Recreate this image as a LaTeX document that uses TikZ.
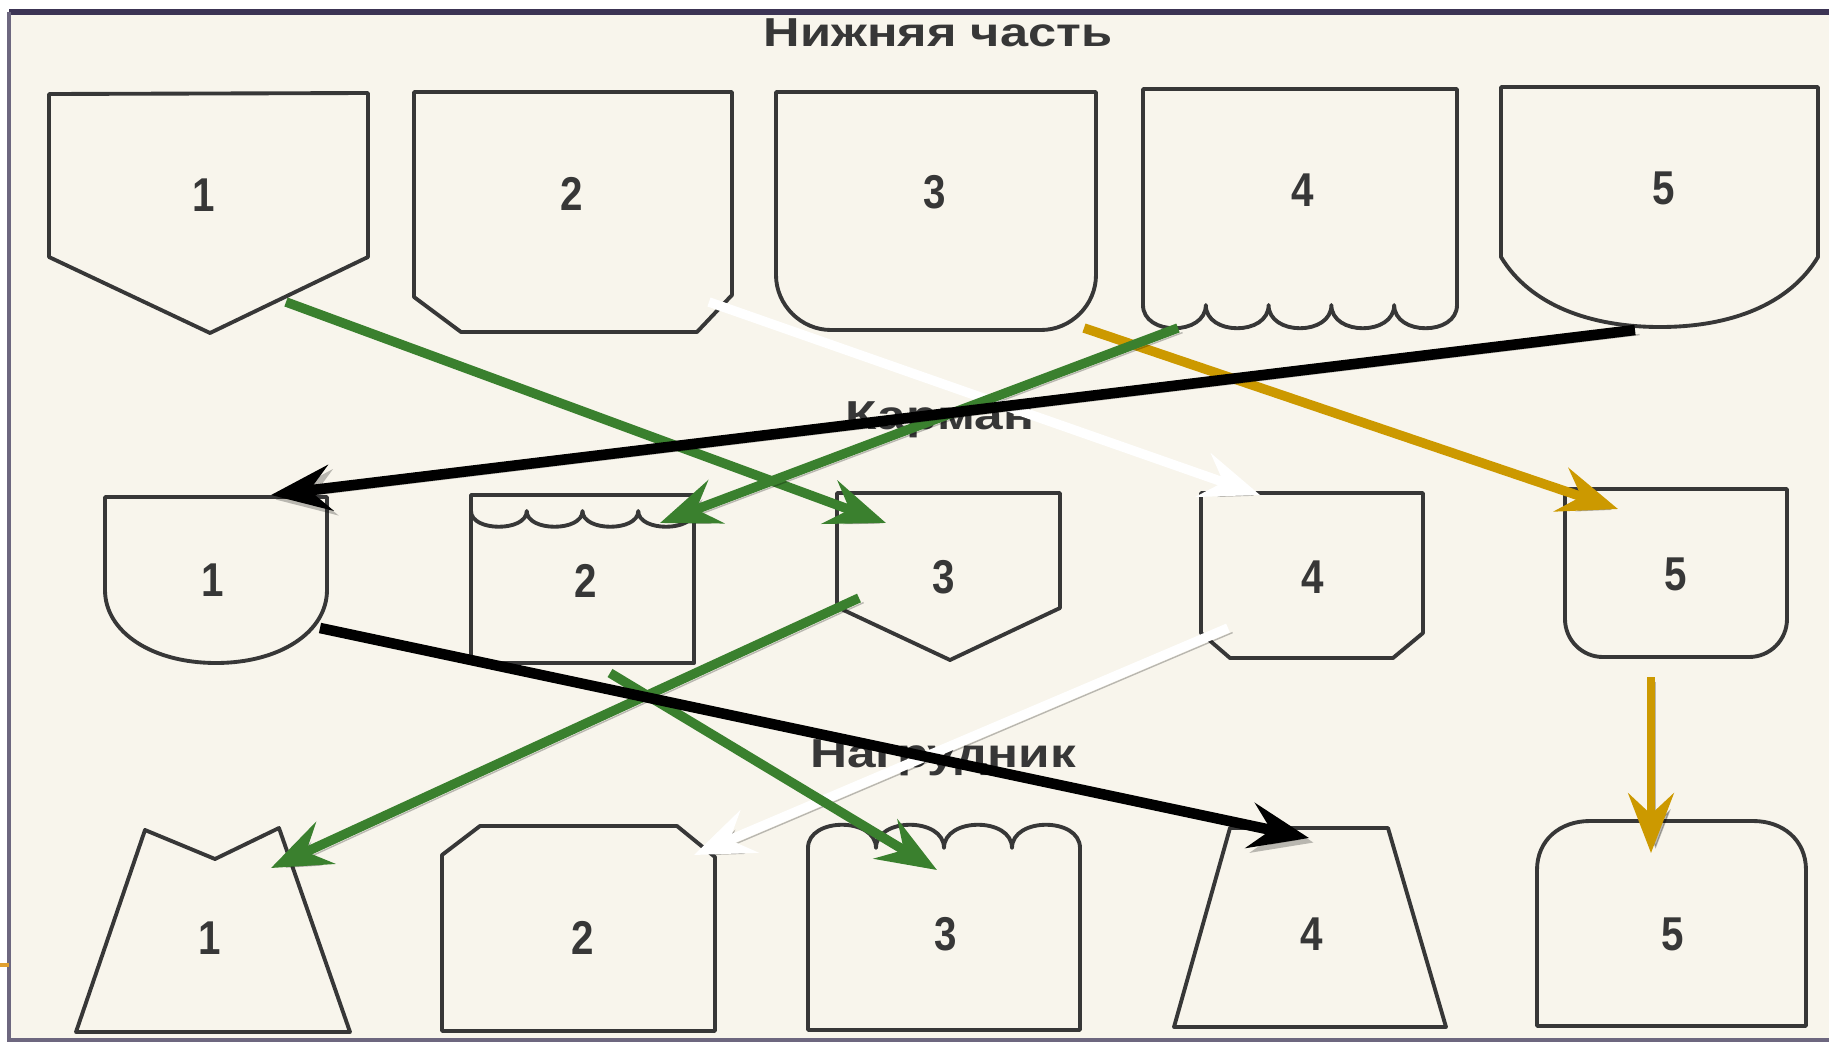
\documentclass[tikz,border=0pt]{standalone}
\usepackage{fontspec}
\setmainfont{Liberation Sans}
\usepackage{tikz}
\usetikzlibrary{arrows.meta}
\definecolor{paper}{RGB}{248,245,236}
\definecolor{frameline}{RGB}{60,52,84}
\definecolor{ink}{RGB}{55,55,55}
\definecolor{leaf}{RGB}{58,128,46}
\definecolor{gold}{RGB}{204,153,0}
\definecolor{tab}{RGB}{224,160,48}

\begin{document}
\begin{tikzpicture}[x=0.01cm, y=-0.01cm,
    part/.style={draw=ink, line width=1.1pt, line join=round},
    num/.style={text=ink, font=\fontsize{13.5}{13.5}\selectfont\bfseries},
    head/.style={text=ink, font=\fontsize{11.5}{11.5}\selectfont\bfseries},
    link/.style={line width=2.7pt, -{Stealth[length=17pt, width=13pt, inset=6pt]},
      preaction={draw=black, opacity=0.25, transform canvas={xshift=1.3pt, yshift=-1.3pt}}}]
  \useasboundingbox (0,0) rectangle (1829,1042);
  \fill[white] (0,0) rectangle (1829,1042);
  \fill[paper] (9,12) rectangle (1829,1040);
  \draw[frameline, line width=1.8pt] (9,12) -- (1829,12);
  \draw[frameline!75, line width=1pt] (9,12) -- (9,1040) -- (1829,1040);
  \draw[tab, line width=1pt] (0,965) -- (9,965);

  \draw[part] (49,94) -- (368,93) -- (368,257) -- (210,333) -- (49,257) -- cycle;
  \draw[part] (414,92) -- (732,92) -- (732,295) -- (697,332) -- (461,332) -- (414,297) -- cycle;
  \draw[part] (776,92) -- (776,275) .. controls (776,305) and (801,330) .. (831,330) -- (1041,330)
    .. controls (1071,330) and (1096,305) .. (1096,275) -- (1096,92) -- cycle;
  \draw[part] (1143,89) -- (1143,305)
    \foreach \k in {1,...,5} { .. controls +(0,31) and +(0,31) .. ++(62.8,0) } -- (1457,89) -- cycle;
  \draw[part] (1501,87) -- (1501,257) .. controls (1530,305) and (1590,327) .. (1660,327)
    .. controls (1730,327) and (1789,305) .. (1818,257) -- (1818,87) -- cycle;

  \draw[part] (105,497) -- (327,497) -- (327,590) .. controls (327,632) and (280,663) .. (216,663)
    .. controls (152,663) and (105,632) .. (105,590) -- cycle;
  \draw[part] (471,495) rectangle (694,663);
  \draw[part] (471,511) \foreach \k in {1,...,4} { .. controls +(0,21) and +(0,21) .. ++(55.75,0) };
  \draw[part] (837,493) -- (1060,493) -- (1060,608) -- (950,660) -- (837,607) -- cycle;
  \draw[part] (1201,493) -- (1423,493) -- (1423,633) -- (1393,658) -- (1230,658) -- (1201,633) -- cycle;
  \draw[part] (1565,489) -- (1787,489) -- (1787,619) .. controls (1787,640) and (1770,657) .. (1749,657)
    -- (1603,657) .. controls (1582,657) and (1565,640) .. (1565,619) -- cycle;

  \draw[part] (76,1032) -- (145,830) -- (215,859) -- (279,828) -- (350,1032) -- cycle;
  \draw[part] (442,1031) -- (442,855) -- (480,826) -- (677,826) -- (715,857) -- (715,1031) -- cycle;
  \draw[part] (808,1030) -- (808,848)
    \foreach \k in {1,...,4} { .. controls +(0,-31) and +(0,-31) .. ++(68,0) } -- (1080,1030) -- cycle;
  \draw[part] (1174,1027) -- (1230,828) -- (1388,828) -- (1446,1027) -- cycle;
  \draw[part] (1537,1026) -- (1537,870) .. controls (1537,840) and (1560,821) .. (1590,821) -- (1753,821)
    .. controls (1783,821) and (1806,840) .. (1806,870) -- (1806,1026) -- cycle;

  \foreach \n/\x/\y in {1/204/195, 2/572/194, 3/935/192, 4/1303/190, 5/1664/188}
    \node[num] (t\n) at (\x,\y) {\scalebox{0.85}[1]{\n}};
  \foreach \n/\x/\y in {1/213/580, 2/586/581, 3/944/577, 4/1313/577, 5/1676/574}
    \node[num] (m\n) at (\x,\y) {\scalebox{0.85}[1]{\n}};
  \foreach \n/\x/\y in {1/210/938, 2/583/938, 3/946/934, 4/1312/934, 5/1673/934}
    \node[num] (b\n) at (\x,\y) {\scalebox{0.85}[1]{\n}};

  \node[head] (lower) at (938,33) {\scalebox{1.25}[1]{Нижняя часть}};
  \node[head] (pocket) at (940,420) {\scalebox{1.27}[1]{Карман}};
  \node[head] (bib) at (943,758) {\scalebox{1.27}[1]{Нагрудник}};

  \coordinate (t1out) at (286,302);
  \coordinate (t2out) at (709,302);
  \coordinate (t3out) at (1084,328);
  \coordinate (t4out) at (1178,328);
  \coordinate (t5out) at (1635,330);
  \coordinate (m1in) at (271,495);
  \coordinate (m2in) at (660,523);
  \coordinate (m3in) at (886,523);
  \coordinate (m4in) at (1260,495);
  \coordinate (m5in) at (1618,509);
  \coordinate (m1out) at (320,628);
  \coordinate (m2out) at (610,673);
  \coordinate (m3out) at (859,598);
  \coordinate (m4out) at (1228,628);
  \coordinate (m5out) at (1651,677);
  \coordinate (b1in) at (271,868);
  \coordinate (b2in) at (694,855);
  \coordinate (b3in) at (937,870);
  \coordinate (b4in) at (1309,838);
  \coordinate (b5in) at (1651,853);

  \draw[link, white] (t2out) -- (m4in);
  \draw[link, white] (m4out) -- (b2in);
  \draw[link, gold] (t3out) -- (m5in);
  \draw[link, gold, line width=2.2pt] (m5out) -- (b5in);
  \draw[link, leaf] (t1out) -- (m3in);
  \draw[link, leaf] (t4out) -- (m2in);
  \draw[link, leaf] (m3out) -- (b1in);
  \draw[link, leaf] (m2out) -- (b3in);
  \draw[link, black, line width=3pt] (t5out) -- (m1in);
  \draw[link, black, line width=3pt] (m1out) -- (b4in);
\end{tikzpicture}
\end{document}
